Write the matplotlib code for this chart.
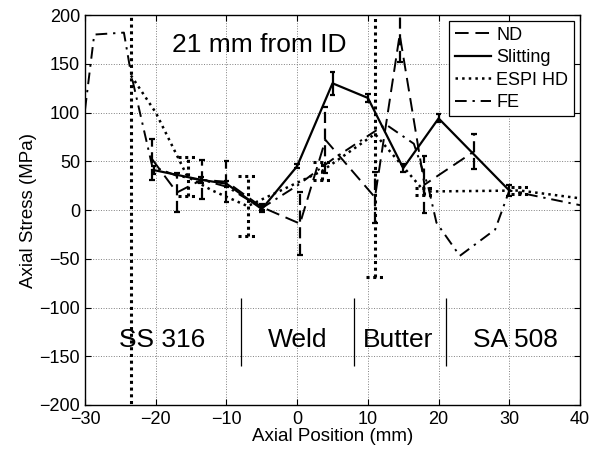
import numpy as np
import matplotlib
matplotlib.use('Agg')
import matplotlib.pyplot as plt

plt.rcParams['font.family'] = ['Liberation Sans', 'DejaVu Sans']

# ND (neutron diffraction)
nd_x = [-20.5, -17, -13.5, -10, -5, 0.4, 4, 11, 14.5, 18, 25]
nd_y = [52, 18, 31, 29, 3, -14, 72, 13, 180, 26, 60]
nd_err = [21, 20, 20, 21, 3, 32, 34, 26, 28, 29, 18]

# Slitting
sl_x = [-20.3, -13.6, -10, -5, 0, 5, 10, 15, 20, 30]
sl_y = [41, 31, 27, 1, 45, 130, 115, 43, 94, 20]
sl_err = [4, 3, 3, 3, 2, 12, 4, 4, 4, 6]

# ESPI hole drilling
espi_x = [-23.5, -20, -15.5, -12, -7, 3.5, 11, 18, 31.5, 40]
espi_y = [138, 100, 34, 20, 4, 40, 78, 19, 20, 12]
espi_err = [350, 0, 20, 0, 31, 9, 147, 4, 3.5, 0]

# FE model
fe_x = [-30, -28.7, -24.5, -23.5, -20.5, -17, -13, -10, -5, 0, 5, 12.5, 16.5,
        18.5, 19.7, 23, 28, 30, 40]
fe_y = [103, 180, 182, 140, 45, 35, 30, 24, 2, 25, 52, 88, 68, 25, -13, -47,
        -20, 20, 5]

regions = ['SS 316', 'Weld', 'Butter', 'SA 508']
region_x = [-19.1, 0, 14.3, 30.8]
region_bounds = [-8, 8, 21]

fig = plt.figure(figsize=(6, 4.55), dpi=100)
ax = fig.add_axes([0.1417, 0.1099, 0.825, 0.857])


def bars(x, y, err, ls, cap_half, lw):
    x = np.array(x, float)
    y = np.array(y, float)
    e = np.array(err, float)
    m = e > 0
    ax.vlines(x[m], y[m] - e[m], y[m] + e[m], colors='k', linestyles=ls, lw=lw)
    for s in (-1, 1):
        ax.hlines(y[m] + s * e[m], x[m] - cap_half, x[m] + cap_half,
                  colors='k', linestyles=ls, lw=lw)


l_nd, = ax.plot(nd_x, nd_y, color='k', lw=1.4, dashes=(7, 3.5), label='ND')
l_sl, = ax.plot(sl_x, sl_y, color='k', lw=1.6, label='Slitting')
l_es, = ax.plot(espi_x, espi_y, color='k', lw=1.8, linestyle=':', label='ESPI HD')
l_fe, = ax.plot(fe_x, fe_y, color='k', lw=1.4, dashes=(6, 3, 1.2, 3), label='FE')

bars(nd_x, nd_y, nd_err, (0, (5, 2.5)), 0.4, 1.6)
bars(sl_x, sl_y, sl_err, '-', 0.4, 1.6)
bars(espi_x, espi_y, espi_err, (0, (1, 1.2)), 1.3, 2.2)

# material regions
for x, name in zip(region_x, regions):
    ax.text(x, -133, name, ha='center', va='center', fontsize=19)
ax.vlines(region_bounds, -90, -160, colors='k', lw=0.9)
ax.text(-17.7, 169, '21 mm from ID', ha='left', va='center', fontsize=19)

ax.set_xlim(-30, 40)
ax.set_ylim(-200, 200)
ax.set_xticks(np.arange(-30, 41, 10))
ax.set_yticks(np.arange(-200, 201, 50))
ax.grid(True, linestyle=':', color='0.5', lw=0.7)
ax.tick_params(direction='in', top=True, right=True, length=4, labelsize=13)
ax.tick_params(axis='x', pad=4)
for sp in ax.spines.values():
    sp.set_linewidth(1.0)
ax.set_xlabel('Axial Position (mm)', fontsize=13.5, labelpad=0)
ax.set_ylabel('Axial Stress (MPa)', fontsize=13.5, labelpad=2)

leg = ax.legend(handles=[l_nd, l_sl, l_es, l_fe], loc='upper right',
                fontsize=13, fancybox=False, edgecolor='k', framealpha=1,
                handlelength=2.0, handletextpad=0.3, labelspacing=0.3,
                borderpad=0.3, borderaxespad=0.35)
leg.get_frame().set_linewidth(0.9)

fig.savefig('out.png', dpi=100)
